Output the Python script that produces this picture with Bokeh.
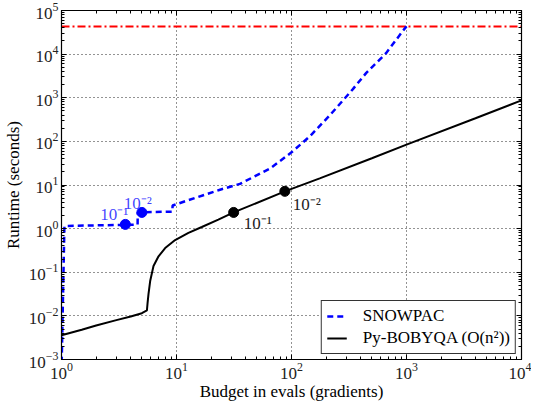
from bokeh.plotting import figure
from bokeh.models import LogAxis, LogTicker, Legend, LegendItem
from bokeh.core.properties import value
from bokeh.embed import file_html
from bokeh.resources import INLINE

# ---- data ----
snow_x = [1.0, 1.06, 3.59, 4.59, 4.6, 5.0, 9.2, 9.25, 23.9, 35.6, 64.9, 100, 145, 216, 342, 447, 664, 960, 1000]
snow_y = [0.0005, 1.15, 1.22, 1.24, 2.35, 2.38, 2.45, 3.4, 7.8, 10.6, 23.7, 56, 132, 400, 1580, 3720, 10500, 38000, 43200]

boby_x = [1, 1.5, 2, 3, 4, 5, 5.53, 5.6, 5.71, 5.91, 6.31, 6.98, 7.97, 9.73, 12.7, 16.6, 23.1,
          31.4, 87.5, 176, 500, 1000, 3980, 10000]
boby_y = [0.0036, 0.0048, 0.0060, 0.0080, 0.0097, 0.0115, 0.0133, 0.0194, 0.032, 0.064, 0.139, 0.232,
          0.358, 0.548, 0.80, 1.09, 1.61, 2.35, 7.16, 14.2, 41, 84, 338, 870]

snow_mark_x = [3.59, 5.0]
snow_mark_y = [1.25, 2.35]
snow_mark_lbl = ["10\u207b\u00b9", "10\u207b\u00b2"]

boby_mark_x = [31.4, 87.5]
boby_mark_y = [2.35, 7.16]
boby_mark_lbl = ["10\u207b\u00b9", "10\u207b\u00b2"]

time_limit = 43200  # 12 hours

FONT = "Liberation Serif"
FS = "17px"

p = figure(x_axis_type="log", y_axis_type="log",
           x_range=(1, 1e4), y_range=(1e-3, 1e5),
           frame_width=460, frame_height=349,
           min_border_left=53, min_border_right=10, min_border_top=10, min_border_bottom=30,
           output_backend="svg", toolbar_location=None,
           x_axis_label="Budget in evals (gradients)", y_axis_label="Runtime (seconds)")
p.background_fill_color = "white"
p.border_fill_color = "white"
p.outline_line_color = "black"
p.outline_line_width = 1.2

for ax in (p.xaxis[0], p.yaxis[0]):
    ax.ticker = LogTicker(num_minor_ticks=10)
    ax.major_tick_in = 5
    ax.major_tick_out = 0
    ax.minor_tick_in = 3
    ax.minor_tick_out = 0
    ax.axis_line_color = "black"
    ax.major_tick_line_color = "black"
    ax.minor_tick_line_color = "black"
    ax.major_label_text_font = FONT
    ax.major_label_text_font_size = FS
    ax.major_label_text_color = "#222222"
    ax.axis_label_text_font = FONT
    ax.axis_label_text_font_size = FS
    ax.axis_label_text_font_style = "normal"
    ax.axis_label_text_color = "black"
    ax.major_label_standoff = 3
p.xaxis[0].axis_label_standoff = 0
p.yaxis[0].axis_label_standoff = 3

# ticks on top / right
for loc in ("above", "right"):
    a = LogAxis(ticker=LogTicker(num_minor_ticks=10))
    a.major_tick_in = 5
    a.major_tick_out = 0
    a.minor_tick_in = 3
    a.minor_tick_out = 0
    a.major_label_text_font_size = "1px"
    a.major_label_text_alpha = 0
    a.major_label_standoff = 0
    a.axis_line_color = "black"
    p.add_layout(a, loc)

for g in (p.xgrid[0], p.ygrid[0]):
    g.grid_line_color = "black"
    g.grid_line_dash = "1 3"
    g.grid_line_width = 1
    g.grid_line_alpha = 0.85

# time limit line
p.line(x=[1, 1e4], y=[time_limit, time_limit], line_color="red", line_width=2,
       line_dash="8 3 2 3")

r_snow = p.line(snow_x, snow_y, line_color="blue", line_width=2.5, line_dash="6 4")
r_boby = p.line(boby_x, boby_y, line_color="black", line_width=2)

p.scatter(snow_mark_x, snow_mark_y, size=10, fill_color="blue", line_color="blue")
p.scatter(boby_mark_x, boby_mark_y, size=10, fill_color="black", line_color="black")

p.text(x=[snow_mark_x[0]], y=[snow_mark_y[0]], text=[snow_mark_lbl[0]], text_align="right",
       text_baseline="alphabetic", x_offset=3, y_offset=-10, text_color="blue",
       text_font=value(FONT), text_font_size=FS, text_alpha=0.75)
p.text(x=[snow_mark_x[1]], y=[snow_mark_y[1]], text=[snow_mark_lbl[1]], text_align="center",
       text_baseline="alphabetic", x_offset=-4, y_offset=-9, text_color="blue",
       text_font=value(FONT), text_font_size=FS, text_alpha=0.75)
p.text(x=[boby_mark_x[0]], y=[boby_mark_y[0]], text=[boby_mark_lbl[0]], text_align="left",
       text_baseline="alphabetic", x_offset=10, y_offset=11, text_color="#222222",
       text_font=value(FONT), text_font_size=FS)
p.text(x=[boby_mark_x[1]], y=[boby_mark_y[1]], text=[boby_mark_lbl[1]], text_align="left",
       text_baseline="alphabetic", x_offset=8, y_offset=13, text_color="#222222",
       text_font=value(FONT), text_font_size=FS)

legend = Legend(items=[LegendItem(label="SNOWPAC", renderers=[r_snow]),
                       LegendItem(label="Py-BOBYQA (O(n\u00b2))", renderers=[r_boby])],
                location="bottom_right")
legend.label_text_font = FONT
legend.label_text_font_size = FS
legend.label_text_color = "black"
legend.border_line_color = "black"
legend.border_line_width = 1
legend.border_line_alpha = 0.8
legend.background_fill_alpha = 1
legend.glyph_width = 20
legend.glyph_height = 16
legend.label_standoff = 16
legend.padding = 5
legend.spacing = 2
legend.margin = 5
p.add_layout(legend, "center")

open("out.html", "w").write(file_html(p, INLINE))
